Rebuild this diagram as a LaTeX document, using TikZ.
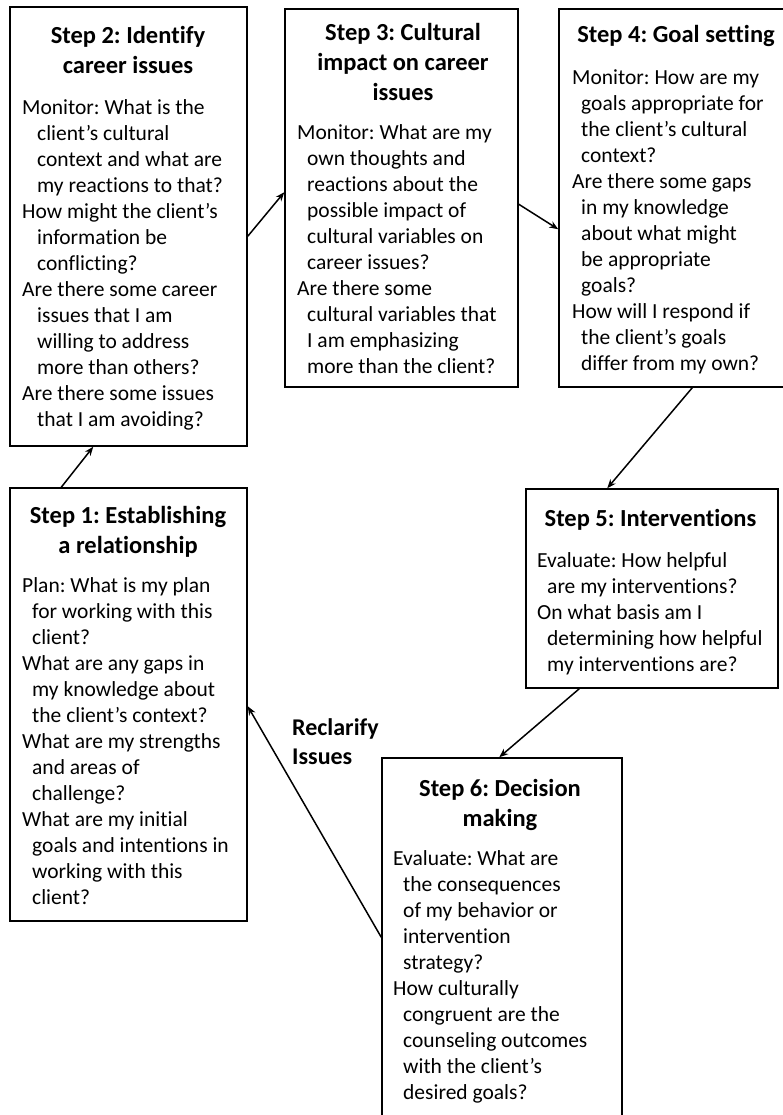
\documentclass[tikz,border=0pt]{standalone}
\usepackage{fontspec}
\setmainfont{Carlito}[Ligatures={NoCommon}]
\usetikzlibrary{arrows.meta,calc}
\frenchspacing
\newcommand{\bodytxt}[2]{\parbox[t]{260pt}{\fontsize{21.5}{26}\selectfont\raggedright\parindent=0pt\def\\{\hfil\break}\everypar{\hangindent=#1\hangafter=1}#2}}
\newcommand{\titletxt}[1]{\parbox[t]{250pt}{\centering\bfseries\fontsize{24.5}{30}\selectfont #1}}
\begin{document}
\begin{tikzpicture}[x=1pt,y=-1pt,
  box/.style={draw, line width=1.5pt, inner sep=0pt},
  ttl/.style={inner sep=0pt, anchor=base},
  bdy/.style={inner sep=0pt, anchor=base west},
  conn/.style={line width=1.5pt, -{Stealth[length=9pt,width=7pt]}}]
\useasboundingbox (0,0) rectangle (783,1115);
% boxes
\node[box, minimum width=237pt, minimum height=439pt] (s2) at (128.5,226.5) {};
\node[box, minimum width=233pt, minimum height=378pt] (s3) at (401.5,198) {};
\node[box, minimum width=234pt, minimum height=378pt] (s4) at (676,198) {};
\node[box, minimum width=237pt, minimum height=433pt] (s1) at (128.5,704.5) {};
\node[box, minimum width=252pt, minimum height=199pt] (s5) at (652,588.5) {};
\node[box, minimum width=240pt, minimum height=380pt] (s6) at (502,948) {};
% Step 2
\node[ttl] (s2t) at (128,44) {\titletxt{Step 2: Identify\\career issues}};
\node[bdy] (s2b) at (22,115) {\bodytxt{15pt}{Monitor: What is the\\client’s cultural\\context and what are\\my reactions to that?\par
How might the client’s\\information be\\conflicting?\par
Are there some career\\issues that I am\\willing to address\\more than others?\par
Are there some issues\\that I am avoiding?}};
% Step 3
\node[ttl] (s3t) at (403,41) {\titletxt{Step 3: Cultural\\impact on career\\issues}};
\node[bdy] (s3b) at (297,140) {\bodytxt{10pt}{Monitor: What are my\\own thoughts and\\reactions about the\\possible impact of\\cultural variables on\\career issues?\par
Are there some\\cultural variables that\\I am emphasizing\\more than the client?}};
% Step 4
\node[ttl] (s4t) at (676,43) {\titletxt{Step 4: Goal setting}};
\node[bdy] (s4b) at (572,85) {\bodytxt{9pt}{Monitor: How are my\\goals appropriate for\\the client’s cultural\\context?\par
Are there some gaps\\in my knowledge\\about what might\\be appropriate\\goals?\par
How will I respond if\\the client’s goals\\differ from my own?}};
% Step 1
\node[ttl] (s1t) at (128,523) {\titletxt{Step 1: Establishing\\a relationship}};
\node[bdy] (s1b) at (22,592) {\bodytxt{10pt}{Plan: What is my plan\\for working with this\\client?\par
What are any gaps in\\my knowledge about\\the client’s context?\par
What are my strengths\\and areas of\\challenge?\par
What are my initial\\goals and intentions in\\working with this\\client?}};
% Step 5
\node[ttl] (s5t) at (650.5,526) {\titletxt{Step 5: Interventions}};
\node[bdy] (s5b) at (537,567) {\bodytxt{10pt}{Evaluate: How helpful\\are my interventions?\par
On what basis am I\\determining how helpful\\my interventions are?}};
% Step 6
\node[ttl] (s6t) at (500,796) {\titletxt{Step 6: Decision\\making}};
\node[bdy] (s6b) at (393,865) {\bodytxt{10pt}{Evaluate: What are\\the consequences\\of my behavior or\\intervention\\strategy?\par
How culturally\\congruent are the\\counseling outcomes\\with the client’s\\desired goals?}};
% label
\node[inner sep=0pt, anchor=base west] (rl) at (292,735) {\parbox[t]{120pt}{\bfseries\fontsize{24}{29}\selectfont Reclarify\\Issues}};
% connectors
\draw[conn] ([xshift=52pt]s1.north west) -- ([xshift=84pt]s2.south west);
\draw[conn] ([yshift=-230pt]s2.north east) -- ([yshift=-184pt]s3.north west);
\draw[conn] ([yshift=-196pt]s3.north east) -- ([yshift=-221pt]s4.north west);
\draw[conn] ([xshift=134pt]s4.south west) -- ([xshift=82pt]s5.north west);
\draw[conn] ([xshift=54pt]s5.south west) -- ([xshift=118pt]s6.north west);
\draw[conn] ([yshift=-180pt]s6.north west) -- ([yshift=-219pt]s1.north east);
\end{tikzpicture}
\end{document}
